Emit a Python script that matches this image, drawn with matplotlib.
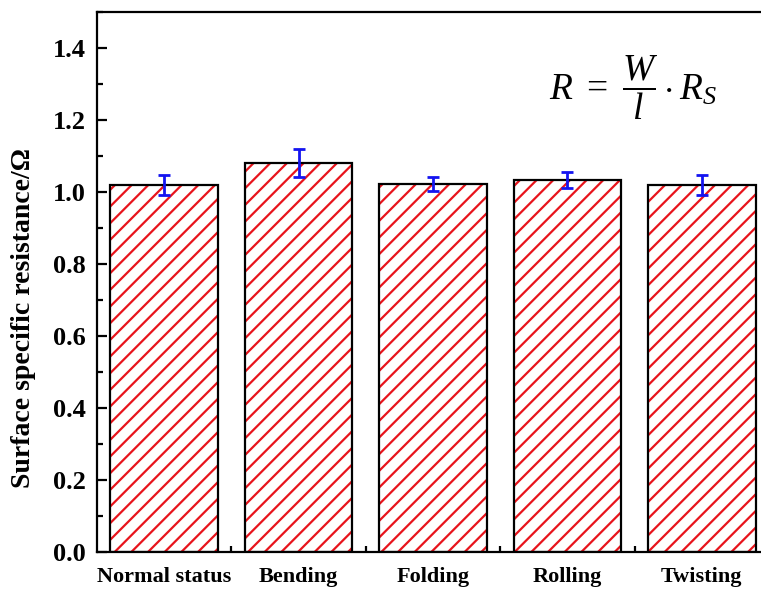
import numpy as np
import matplotlib
matplotlib.use("Agg")
import matplotlib.pyplot as plt
from matplotlib.ticker import MultipleLocator, FixedLocator

# resistance after each mechanical deformation
conditions = ["Normal status", "Bending", "Folding", "Rolling", "Twisting"]
resistance = [1.02, 1.08, 1.022, 1.033, 1.019]
errors = [0.028, 0.038, 0.019, 0.023, 0.028]
yticks = [0.0, 0.2, 0.4, 0.6, 0.8, 1.0, 1.2, 1.4]

plt.rcParams['font.family'] = ['Liberation Serif', 'DejaVu Serif']
plt.rcParams['mathtext.fontset'] = 'custom'
plt.rcParams['mathtext.rm'] = 'Liberation Serif:normal'
plt.rcParams['mathtext.it'] = 'Liberation Serif:italic:normal'
plt.rcParams['hatch.linewidth'] = 1.6

fig = plt.figure(figsize=(7.61, 5.95), dpi=100)
ax = fig.add_axes([0.1275, 0.0723, 0.883, 0.9076])

x = np.arange(1, len(conditions) + 1)
# red hatching inside, black outline on top
ax.bar(x, resistance, width=0.8, color='white', edgecolor='#e8141c',
       hatch='//', linewidth=0, zorder=2)
ax.bar(x, resistance, width=0.8, fill=False, edgecolor='black',
       linewidth=1.6, zorder=3)
ax.errorbar(x, resistance, yerr=errors, fmt='none', ecolor='#1414f0',
            elinewidth=2, capsize=4.5, capthick=2, zorder=4)

ax.set_xlim(0.5, 5.5)
ax.set_ylim(0, 1.5)
ax.set_xticks(x)
ax.set_xticklabels(conditions, fontsize=16, fontweight='bold')
ax.xaxis.set_minor_locator(FixedLocator([1.5, 2.5, 3.5, 4.5]))
ax.set_yticks(yticks)
ax.set_yticklabels(['%.1f' % v for v in yticks], fontsize=19, fontweight='bold')
ax.yaxis.set_minor_locator(MultipleLocator(0.1))

ax.tick_params(which='both', direction='in', width=1.6, top=False, right=False)
ax.tick_params(which='major', length=7)
ax.tick_params(which='minor', length=4)
ax.tick_params(axis='x', pad=11)
ax.tick_params(axis='y', pad=8)
for s in ax.spines.values():
    s.set_linewidth(1.6)

ax.set_ylabel('Surface specific resistance/\u03a9', fontsize=20,
              fontweight='bold')
ax.yaxis.set_label_coords(-0.091, 0.433)

ax.text(0.798, 0.859, r'$R\ =\ \dfrac{W}{l}\cdot R_S$', transform=ax.transAxes,
        fontsize=27, ha='center', va='center')

fig.savefig('out.png', dpi=100)
